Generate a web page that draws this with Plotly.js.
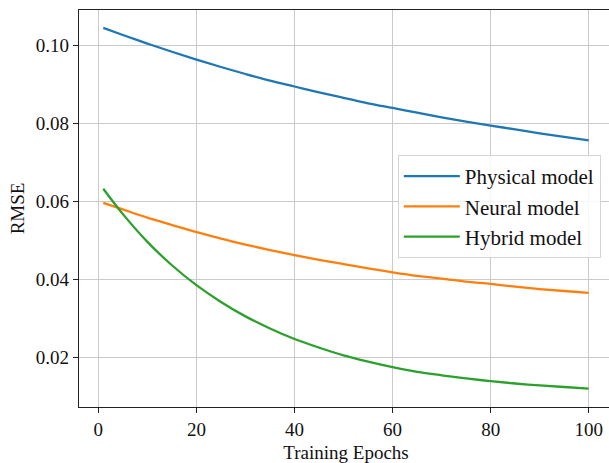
<!DOCTYPE html>
<html>
<head>
<meta charset="utf-8">
<script src="https://cdn.plot.ly/plotly-3.0.1.min.js"></script>
<style>
html, body { margin: 0; padding: 0; overflow: hidden; background: #fff; width: 609px; height: 463px; }
#chart { width: 640px; height: 463px; }
</style>
</head>
<body>
<div id="chart"></div>
<script>
const epochs = [1, 5, 10, 15, 20, 25, 30, 35, 40, 45, 50, 55, 60, 65, 70, 75, 80, 85, 90, 95, 100];
const physical = [0.1045, 0.1027, 0.1005, 0.0984, 0.0964, 0.0945, 0.0927, 0.0910, 0.0895, 0.0880, 0.0866, 0.0852, 0.0840, 0.0828, 0.0816, 0.0805, 0.0795, 0.0785, 0.0775, 0.0766, 0.0757];
const neural = [0.0597, 0.0580, 0.0559, 0.0540, 0.0522, 0.0505, 0.0490, 0.0476, 0.0463, 0.0451, 0.0440, 0.0429, 0.0419, 0.0410, 0.0403, 0.0395, 0.0389, 0.0382, 0.0376, 0.0371, 0.0366];
const hybrid = [0.0633, 0.0568, 0.0497, 0.0437, 0.0386, 0.0343, 0.0306, 0.0275, 0.0248, 0.0226, 0.0206, 0.0190, 0.0176, 0.0164, 0.0155, 0.0147, 0.0140, 0.0134, 0.0129, 0.0125, 0.0121];
const seriesNames = ["Physical model", "Neural model", "Hybrid model"];
const colors = ["#1f77b4", "#ff7f0e", "#2ca02c"];
const xTickVals = [0, 20, 40, 60, 80, 100];
const yTickVals = [0.02, 0.04, 0.06, 0.08, 0.10];

const FONT = "Liberation Serif, Times New Roman, serif";
const data = [physical, neural, hybrid].map((ys, i) => ({
  x: epochs, y: ys, type: "scatter", mode: "lines", name: seriesNames[i],
  line: { color: colors[i], width: 2.3, shape: "spline", smoothing: 1 }
}));

const axisCommon = {
  showline: true, linecolor: "#222", linewidth: 1.3, mirror: true,
  ticks: "outside", ticklen: 5, tickwidth: 1.3, tickcolor: "#222",
  showgrid: true, gridcolor: "#cbcbcb", gridwidth: 1.3,
  zeroline: false, tickfont: { family: FONT, size: 19, color: "#111" }
};

const layout = {
  width: 640, height: 463,
  margin: { l: 79, r: 27, t: 10, b: 56 },
  paper_bgcolor: "#fff", plot_bgcolor: "#fff",
  font: { family: FONT, size: 19, color: "#111" },
  showlegend: true,
  legend: {
    x: 0.597, y: 0.635, xanchor: "left", yanchor: "top",
    bgcolor: "rgba(255,255,255,0.85)", bordercolor: "#d5d5d5", borderwidth: 1,
    font: { family: FONT, size: 21, color: "#111" },
    itemwidth: 56, tracegroupgap: 0
  },
  xaxis: Object.assign({}, axisCommon, {
    range: [-3.95, 104.95], tickvals: xTickVals, ticktext: xTickVals.map(String),
    title: { text: "Training Epochs", font: { family: FONT, size: 19, color: "#111" }, standoff: 6 }
  }),
  yaxis: Object.assign({}, axisCommon, {
    range: [0.00738, 0.1091], tickvals: yTickVals, ticktext: yTickVals.map(v => v.toFixed(2)),
    title: { text: "RMSE", font: { family: FONT, size: 19, color: "#111" }, standoff: 6 }
  })
};

Plotly.newPlot("chart", data, layout, { displayModeBar: false, staticPlot: true });
</script>
</body>
</html>
